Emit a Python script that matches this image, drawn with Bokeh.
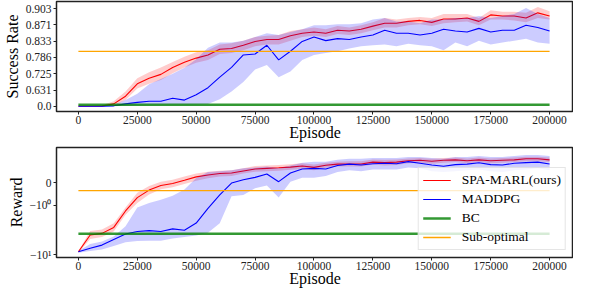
import numpy as np
from bokeh.plotting import figure
from bokeh.layouts import column
from bokeh.models import (Range1d, FixedTicker, Legend, LegendItem,
                          BasicTickFormatter)
from bokeh.embed import file_html
from bokeh.resources import INLINE

# ---------------- data ----------------
episodes = list(range(0, 200001, 5000))
x_ticks = [0, 25000, 50000, 75000, 100000, 125000, 150000, 175000, 200000]

success_tick_labels = ["0.0", "0.631", "0.725", "0.786", "0.833", "0.871", "0.903"]
reward_tick_values = [0, -1, -10]
reward_tick_labels = ["0", "\u221210\u2070", "\u221210\u00b9"]

series_names = ["SPA-MARL(ours)", "MADDPG", "BC", "Sub-optimal"]

spa_success = [0.0, 0.0, 0.26, 0.43, 0.573, 0.673, 0.704, 0.722, 0.751, 0.770, 0.784,
               0.794, 0.811, 0.813, 0.822, 0.832, 0.837, 0.837, 0.846, 0.852, 0.855,
               0.852, 0.859, 0.857, 0.861, 0.868, 0.874, 0.874, 0.878, 0.880, 0.876,
               0.883, 0.883, 0.885, 0.878, 0.891, 0.889, 0.889, 0.885, 0.895, 0.889]
spa_success_hi = [0.0, 0.0, 0.37, 0.50, 0.619, 0.704, 0.731, 0.751, 0.771, 0.788, 0.802,
                  0.808, 0.824, 0.827, 0.834, 0.843, 0.846, 0.848, 0.857, 0.861, 0.865,
                  0.861, 0.868, 0.865, 0.870, 0.876, 0.885, 0.882, 0.885, 0.887, 0.885,
                  0.893, 0.893, 0.893, 0.885, 0.900, 0.897, 0.897, 0.895, 0.906, 0.898]
spa_success_lo = [0.0, 0.0, 0.0, 0.31, 0.52, 0.642, 0.673, 0.695, 0.727, 0.751, 0.768,
                  0.778, 0.797, 0.800, 0.808, 0.819, 0.824, 0.824, 0.834, 0.843, 0.846,
                  0.843, 0.850, 0.848, 0.852, 0.859, 0.865, 0.865, 0.870, 0.872, 0.868,
                  0.874, 0.876, 0.878, 0.870, 0.882, 0.882, 0.880, 0.876, 0.885, 0.882]

maddpg_success = [0.0, 0.0, 0.0, 0.31, 0.43, 0.475, 0.50, 0.50, 0.549, 0.52, 0.589,
                  0.648, 0.709, 0.751, 0.794, 0.797, 0.822, 0.778, 0.805, 0.832, 0.843,
                  0.834, 0.839, 0.837, 0.843, 0.848, 0.859, 0.852, 0.852, 0.848, 0.852,
                  0.861, 0.857, 0.855, 0.863, 0.855, 0.859, 0.859, 0.870, 0.865, 0.857]
maddpg_success_hi = [0.0, 0.0, 0.0, 0.388, 0.52, 0.60, 0.67, 0.70, 0.725, 0.75, 0.78,
                     0.815, 0.829, 0.829, 0.834, 0.843, 0.852, 0.848, 0.855, 0.861, 0.870,
                     0.870, 0.872, 0.872, 0.874, 0.882, 0.885, 0.878, 0.878, 0.874, 0.882,
                     0.882, 0.885, 0.885, 0.889, 0.885, 0.889, 0.893, 0.904, 0.893, 0.885]
maddpg_success_lo = [0.0, 0.0, 0.0, 0.0, 0.31, 0.388, 0.388, 0.388, 0.388, 0.388, 0.41,
                     0.43, 0.535, 0.619, 0.684, 0.743, 0.760, 0.709, 0.735, 0.778, 0.794,
                     0.800, 0.805, 0.813, 0.819, 0.822, 0.824, 0.819, 0.826, 0.822, 0.819,
                     0.808, 0.829, 0.819, 0.834, 0.824, 0.829, 0.834, 0.839, 0.829, 0.826]

bc_success = 0.40
suboptimal_success = 0.805

spa_reward = [-8.75, -4.0, -3.7, -2.8, -1.3, -0.66, -0.33, -0.125, -0.04, 0.10, 0.25,
              0.33, 0.40, 0.42, 0.51, 0.60, 0.625, 0.65, 0.68, 0.73, 0.667,
              0.76, 0.81, 0.82, 0.82, 0.90, 0.875, 0.90, 0.96, 0.98, 0.94,
              0.98, 1.0, 0.96, 1.0, 0.96, 0.98, 1.0, 1.05, 1.05, 1.0]
spa_reward_hi = [-8.4, -3.3, -3.1, -2.3, -1.1, -0.45, -0.15, 0.04, 0.125, 0.27, 0.40,
                 0.48, 0.52, 0.54, 0.625, 0.73, 0.75, 0.77, 0.81, 0.85, 0.79,
                 0.875, 0.92, 0.94, 0.94, 1.02, 1.0, 1.02, 1.07, 1.09, 1.05,
                 1.09, 1.11, 1.07, 1.11, 1.07, 1.09, 1.11, 1.16, 1.16, 1.11]
spa_reward_lo = [-9.1, -4.8, -4.4, -3.4, -1.55, -0.9, -0.52, -0.29, -0.21, -0.06, 0.083,
                 0.19, 0.27, 0.29, 0.40, 0.48, 0.50, 0.52, 0.56, 0.60, 0.54,
                 0.65, 0.71, 0.71, 0.71, 0.79, 0.75, 0.77, 0.85, 0.875, 0.83,
                 0.875, 0.90, 0.85, 0.90, 0.85, 0.875, 0.90, 0.94, 0.94, 0.90]

maddpg_reward = [-8.75, -7.4, -6.4, -4.9, -3.8, -3.4, -3.25, -3.4, -3.0, -3.2, -2.29,
                 -1.15, -0.54, -0.02, 0.125, 0.23, 0.375, 0.04, 0.42, 0.60, 0.625,
                 0.60, 0.75, 0.81, 0.77, 0.83, 0.85, 0.83, 0.92, 0.85, 0.77,
                 0.72, 0.79, 0.81, 0.875, 0.79, 0.77, 0.85, 0.875, 0.90, 0.82]
maddpg_reward_hi = [-8.4, -6.1, -5.4, -4.3, -2.65, -1.1, -0.9, -0.75, -0.58, -0.3, 0.2,
                    0.46, 0.50, 0.54, 0.625, 0.667, 0.71, 0.625, 0.75, 0.875, 0.92,
                    0.92, 1.0, 1.05, 1.05, 1.09, 1.09, 1.09, 1.14, 1.14, 1.09,
                    1.05, 1.14, 1.14, 1.2, 1.14, 1.14, 1.2, 1.25, 1.25, 1.2]
maddpg_reward_lo = [-9.1, -8.4, -7.9, -6.7, -5.6, -5.3, -5.2, -5.2, -4.7, -4.4, -4.1,
                    -3.6, -2.3, -0.6, -0.54, -0.25, -0.125, -0.66, 0.04, 0.21, 0.21,
                    0.29, 0.46, 0.54, 0.50, 0.58, 0.58, 0.58, 0.667, 0.625, 0.50,
                    0.46, 0.50, 0.54, 0.58, 0.50, 0.46, 0.54, 0.58, 0.625, 0.54]

bc_reward = -3.77
suboptimal_reward = -0.35

# ---------------- scales (power 5 and symlog) ----------------
LINSCALE = 0.4615


def success_scale(v):
    return 10.0 * np.asarray(v, dtype=float) ** 5


def reward_scale(v):
    v = np.asarray(v, dtype=float)
    mag = np.abs(v)
    lin = LINSCALE * v
    logp = np.sign(v) * (LINSCALE + np.log10(np.maximum(mag, 1.0)))
    return np.where(mag <= 1.0, lin, logp)


FONT = "Liberation Serif"
RED, BLUE, GREEN, ORANGE = "#ff0000", "#0000ff", "#008000", "#ffa500"


def style(p, ylabel):
    p.xgrid.visible = False
    p.ygrid.visible = False
    p.outline_line_color = "#222222"
    p.outline_line_width = 1.5
    p.background_fill_color = "white"
    p.border_fill_color = "white"
    p.xaxis.ticker = FixedTicker(ticks=x_ticks)
    p.xaxis.formatter = BasicTickFormatter(use_scientific=False)
    p.xaxis.axis_label = "Episode"
    p.yaxis.axis_label = ylabel
    for ax in (p.xaxis[0], p.yaxis[0]):
        ax.axis_line_color = None
        ax.major_tick_line_color = "#222222"
        ax.major_tick_out = 3
        ax.major_tick_in = 0
        ax.minor_tick_line_color = None
        ax.major_label_text_font = FONT
        ax.major_label_text_font_size = "11.5px"
        ax.major_label_text_font_style = "normal"
        ax.major_label_text_color = "#222222"
        ax.axis_label_text_font = FONT
        ax.axis_label_text_font_size = "16px"
        ax.axis_label_text_font_style = "normal"
        ax.axis_label_text_color = "black"
    p.xaxis.major_label_standoff = 1
    p.xaxis.axis_label_standoff = -3
    p.yaxis.major_label_standoff = 2
    p.yaxis.axis_label_standoff = 2


# ---------------- top: success rate ----------------
p1 = figure(width=573, height=143, output_backend="svg", toolbar_location=None,
            x_range=Range1d(-9300, 210150), y_range=Range1d(-0.32, 6.44),
            min_border_left=55, min_border_right=0, min_border_top=1,
            min_border_bottom=31)
style(p1, "Success Rate")
p1.yaxis.ticker = FixedTicker(ticks=list(range(len(success_tick_labels))))
p1.yaxis.major_label_overrides = {i: s for i, s in enumerate(success_tick_labels)}

p1.varea(x=episodes, y1=success_scale(spa_success_lo), y2=success_scale(spa_success_hi),
         fill_color=RED, fill_alpha=0.2)
p1.line(x=episodes, y=success_scale(spa_success), line_color=RED, line_width=1.1)
p1.varea(x=episodes, y1=success_scale(maddpg_success_lo), y2=success_scale(maddpg_success_hi),
         fill_color=BLUE, fill_alpha=0.2)
p1.line(x=episodes, y=success_scale(maddpg_success), line_color=BLUE, line_width=1.1)
ends = [episodes[0], episodes[-1]]
p1.line(x=ends, y=success_scale([bc_success] * 2), line_color=GREEN, line_width=2.5, line_alpha=0.8)
p1.line(x=ends, y=success_scale([suboptimal_success] * 2), line_color=ORANGE, line_width=1.3)

# ---------------- bottom: reward ----------------
p2 = figure(width=573, height=146, output_backend="svg", toolbar_location=None,
            x_range=p1.x_range, y_range=Range1d(-1.519, 0.7115),
            min_border_left=55, min_border_right=0, min_border_top=4,
            min_border_bottom=31)
style(p2, "Reward")
rt = [float(t) for t in reward_scale(reward_tick_values)]
p2.yaxis.ticker = FixedTicker(ticks=rt)
p2.yaxis.major_label_overrides = {t: s for t, s in zip(rt, reward_tick_labels)}

p2.varea(x=episodes, y1=reward_scale(spa_reward_lo), y2=reward_scale(spa_reward_hi),
         fill_color=RED, fill_alpha=0.2)
r_spa = p2.line(x=episodes, y=reward_scale(spa_reward), line_color=RED, line_width=1.1)
p2.varea(x=episodes, y1=reward_scale(maddpg_reward_lo), y2=reward_scale(maddpg_reward_hi),
         fill_color=BLUE, fill_alpha=0.2)
r_mad = p2.line(x=episodes, y=reward_scale(maddpg_reward), line_color=BLUE, line_width=1.1)
r_bc = p2.line(x=ends, y=reward_scale([bc_reward] * 2), line_color=GREEN, line_width=2.5, line_alpha=0.8)
r_sub = p2.line(x=ends, y=reward_scale([suboptimal_reward] * 2), line_color=ORANGE, line_width=1.3)

legend = Legend(items=[LegendItem(label=n, renderers=[r])
                       for n, r in zip(series_names, [r_spa, r_mad, r_bc, r_sub])],
                location="bottom_right")
legend.label_text_font = FONT
legend.label_text_font_size = "13.5px"
legend.label_text_font_style = "normal"
legend.label_text_color = "black"
legend.border_line_color = "#cccccc"
legend.border_line_width = 1
legend.background_fill_color = "white"
legend.background_fill_alpha = 0.8
legend.margin = 7
legend.padding = 4
legend.spacing = 3
legend.glyph_width = 28
legend.glyph_height = 16
legend.label_height = 16
legend.label_standoff = 11
p2.add_layout(legend)

layout = column(p1, p2, spacing=0)
open("out.html", "w").write(file_html(layout, INLINE))
